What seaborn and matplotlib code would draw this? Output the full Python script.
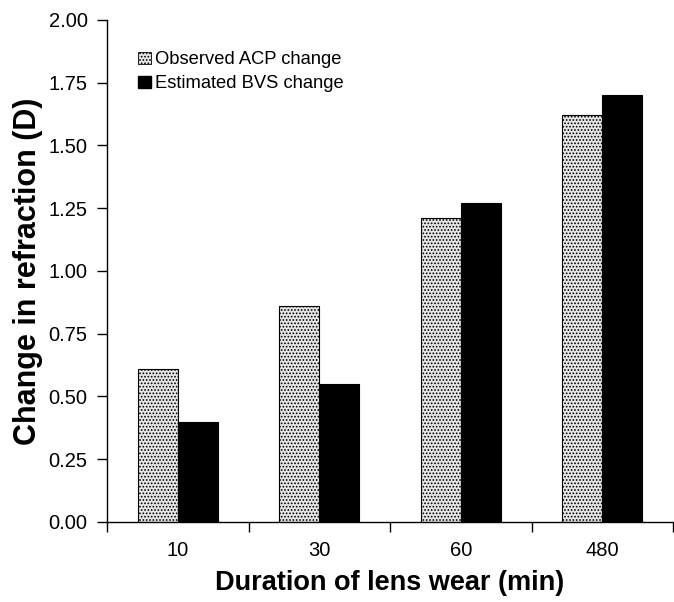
import pandas as pd
import seaborn as sns
import matplotlib.pyplot as plt
from matplotlib.patches import Patch

durations = ['10', '30', '60', '480']
observed_acp = [0.61, 0.86, 1.21, 1.62]
estimated_bvs = [0.40, 0.55, 1.27, 1.70]
series_names = ['Observed ACP change', 'Estimated BVS change']

df = pd.DataFrame({
    'duration': durations * 2,
    'change': observed_acp + estimated_bvs,
    'series': [series_names[0]] * 4 + [series_names[1]] * 4,
})

sns.set_style('ticks', {'text.color': 'black', 'axes.labelcolor': 'black',
                        'xtick.color': 'black', 'ytick.color': 'black',
                        'axes.edgecolor': 'black'})
plt.rcParams['font.family'] = ['Liberation Sans', 'DejaVu Sans']
plt.rcParams['hatch.color'] = '#555555'
plt.rcParams['hatch.linewidth'] = 0.8

fig = plt.figure(figsize=(6.74, 6.02), dpi=100)
ax = fig.add_axes([0.159, 0.133, 0.8395, 0.834])

sns.barplot(data=df, x='duration', y='change', hue='series', order=durations,
            palette=['#e6e6e6', 'black'], width=0.566, gap=0, edgecolor='black',
            linewidth=0.8, saturation=1, ax=ax, legend=False)

# stipple texture on the observed bars
for p in ax.patches[:4]:
    p.set_hatch('.....')

ax.set_ylim(0, 2.0)
ax.set_yticks([0, 0.25, 0.5, 0.75, 1.0, 1.25, 1.5, 1.75, 2.0])
ax.set_yticklabels(['%.2f' % v for v in ax.get_yticks()], fontsize=14.5)
ax.set_xlim(-0.5, 3.5)
ax.set_xticks([-0.5, 0.5, 1.5, 2.5, 3.5])
ax.set_xticklabels([])
ax.set_xticks(range(4), minor=True)
ax.set_xticklabels(durations, minor=True, fontsize=14.5)
ax.tick_params(axis='x', which='minor', length=0, pad=14)
ax.tick_params(axis='both', which='major', length=7, width=1, direction='out')
ax.tick_params(axis='y', which='major', pad=7)

ax.set_xlabel('Duration of lens wear (min)', fontsize=19.5, fontweight='bold', labelpad=7)
ax.set_ylabel('Change in refraction (D)', fontsize=22, fontweight='bold', labelpad=4)

for s in ['top', 'right']:
    ax.spines[s].set_visible(False)
ax.spines['left'].set_linewidth(1)
ax.spines['bottom'].set_linewidth(1)

handles = [Patch(facecolor='#e6e6e6', edgecolor='black', hatch='.....', linewidth=0.6),
           Patch(facecolor='black', edgecolor='black')]
ax.legend(handles, series_names, loc='upper left', bbox_to_anchor=(0.025, 0.97),
          frameon=False, fontsize=13.2, handlelength=0.7, handleheight=0.7,
          handletextpad=0.25, labelspacing=0.38)

fig.savefig('out.png', dpi=100)
